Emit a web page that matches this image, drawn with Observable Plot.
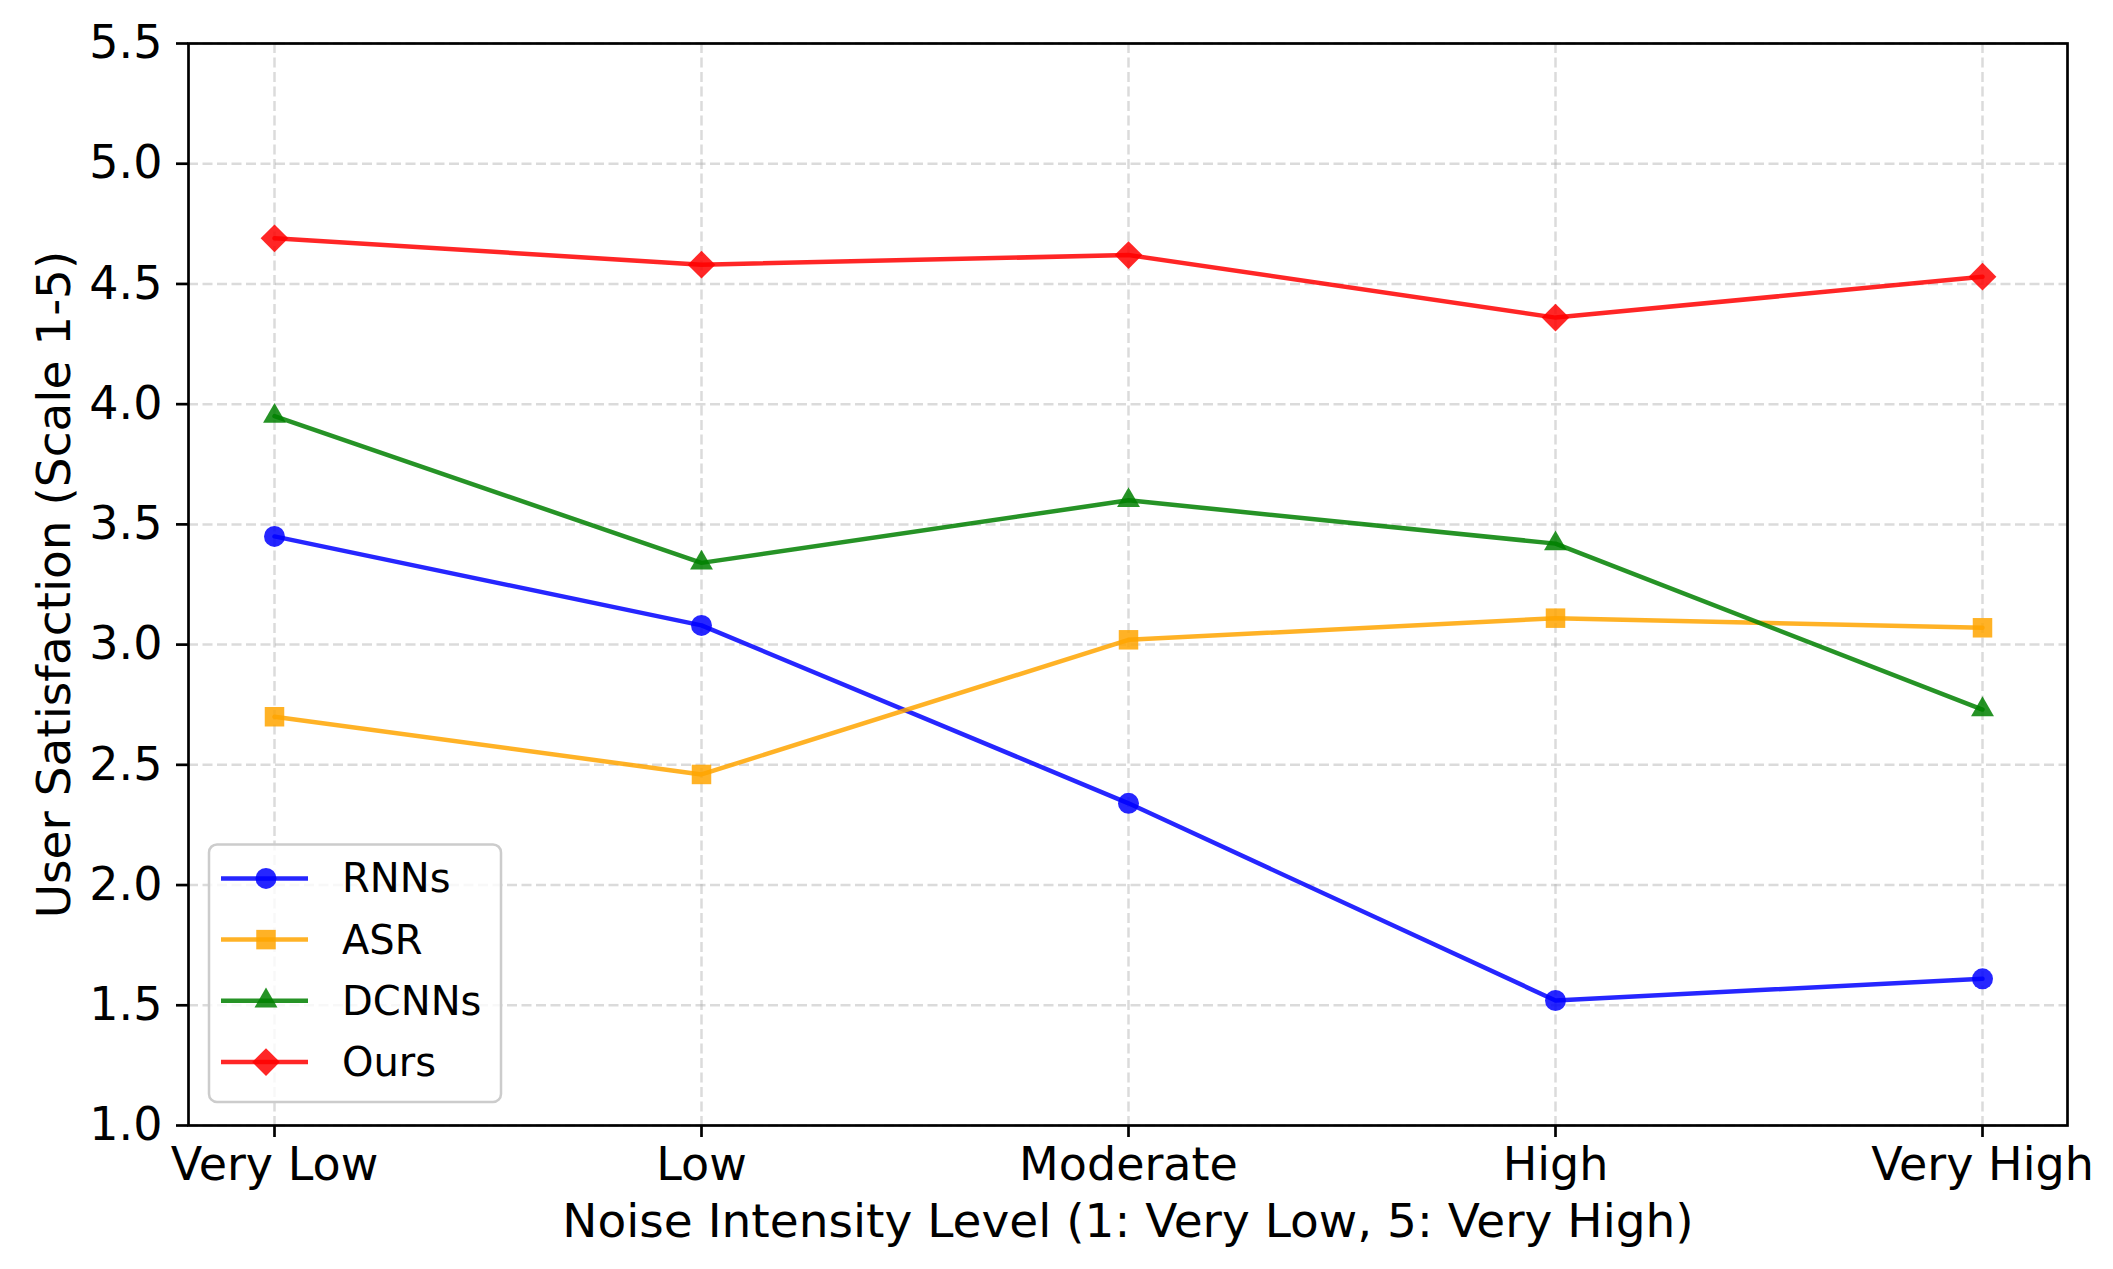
<!DOCTYPE html>
<html><head><meta charset="utf-8">
<script src="https://cdn.jsdelivr.net/npm/d3@7"></script>
<script src="https://cdn.jsdelivr.net/npm/@observablehq/plot@0.6"></script>
<style>
html,body{margin:0;padding:0;background:#fff;}
#chart svg{display:block;}
</style></head><body><div id="chart"></div>
<script>
// ---- data ----
const categories = ["Very Low", "Low", "Moderate", "High", "Very High"];
const rnns  = [3.45, 3.08, 2.34, 1.52, 1.61];
const asr   = [2.70, 2.46, 3.02, 3.11, 3.07];
const dcnns = [3.95, 3.34, 3.60, 3.42, 2.73];
const ours  = [4.69, 4.58, 4.62, 4.36, 4.53];
const seriesNames = ["RNNs", "ASR", "DCNNs", "Ours"];
const seriesValues = [rnns, asr, dcnns, ours];
const seriesColors = ["#0000ff", "#ffa500", "#008000", "#ff0000"];
const seriesSymbols = ["circle", "square", "triangle", "diamond2"];
const seriesRadius = [10.5, 11, 8.5, 12.5];
const yTicks = [1.0, 1.5, 2.0, 2.5, 3.0, 3.5, 4.0, 4.5, 5.0, 5.5];
const xLabel = "Noise Intensity Level (1: Very Low, 5: Very High)";
const yLabel = "User Satisfaction (Scale 1-5)";

const rows = seriesNames.flatMap((name, i) =>
  categories.map((c, j) => ({series: name, level: c, value: seriesValues[i][j]})));

const ALPHA = 0.85;
const symbolMap = {circle: d3.symbolCircle, square: d3.symbolSquare, triangle: d3.symbolTriangle, diamond2: d3.symbolDiamond2};

function legendMark(index, scales, values, dims) {
  const g = d3.create("svg:g");
  const left = dims.marginLeft + 21;
  const bottom = dims.height - dims.marginBottom - 23;
  const pitch = 61.2;
  const n = seriesNames.length;
  const firstRow = bottom - 40 - pitch * (n - 1);
  const top = firstRow - 34;
  const boxW = 292;
  g.append("rect").attr("x", left).attr("y", top).attr("width", boxW).attr("height", bottom - top)
    .attr("rx", 8).attr("fill", "#fff").attr("fill-opacity", 0.8)
    .attr("stroke", "#cccccc").attr("stroke-width", 2.5);
  seriesNames.forEach((name, i) => {
    const y = firstRow + i * pitch;
    const c = seriesColors[i];
    g.append("line").attr("x1", left + 12).attr("x2", left + 99).attr("y1", y).attr("y2", y)
      .attr("stroke", c).attr("stroke-opacity", ALPHA).attr("stroke-width", 4.5);
    const r = seriesRadius[i];
    g.append("path").attr("transform", `translate(${left + 57},${y})`)
      .attr("d", d3.symbol(symbolMap[seriesSymbols[i]], Math.PI * r * r)())
      .attr("fill", c).attr("fill-opacity", ALPHA);
    g.append("text").attr("x", left + 133).attr("y", y).attr("dy", "0.35em")
      .attr("text-anchor", "start").attr("font-size", 40).attr("fill", "#000").text(name);
  });
  return g.node();
}

const marks = [
  Plot.gridY(yTicks, {stroke: "#b0b0b0", strokeOpacity: 0.45, strokeWidth: 2.5, strokeDasharray: "10,4.5"}),
  Plot.gridX(categories, {stroke: "#b0b0b0", strokeOpacity: 0.45, strokeWidth: 2.5, strokeDasharray: "10,4.5"}),
  Plot.axisY(yTicks, {tickSize: 12, tickPadding: 14, tickFormat: d => d.toFixed(1), fontSize: 46, strokeWidth: 2.7, label: null}),
  Plot.axisX(categories, {tickSize: 12, tickPadding: 10, fontSize: 46, strokeWidth: 2.7, label: null}),
];
seriesNames.forEach((name, i) => {
  const d = rows.filter(r => r.series === name);
  marks.push(Plot.lineY(d, {x: "level", y: "value", stroke: seriesColors[i], strokeOpacity: ALPHA, strokeWidth: 4.5}));
  marks.push(Plot.dot(d, {x: "level", y: "value", symbol: seriesSymbols[i], r: seriesRadius[i], fill: seriesColors[i], fillOpacity: ALPHA, stroke: "none"}));
});
marks.push(Plot.frame({stroke: "#000", strokeWidth: 2.7}));
marks.push(Plot.text([yLabel], {text: d => d, frameAnchor: "left", dx: -134, rotate: -90, textAnchor: "middle", lineAnchor: "middle", fontSize: 47, fill: "#000"}));
marks.push(Plot.text([xLabel], {text: d => d, frameAnchor: "bottom", dy: 96, textAnchor: "middle", lineAnchor: "middle", fontSize: 47, fill: "#000"}));
marks.push(legendMark);

const chart = Plot.plot({
  width: 2113,
  height: 1269,
  marginLeft: 188,
  marginRight: 46,
  marginTop: 43,
  marginBottom: 144,
  style: {fontFamily: "DejaVu Sans", fontSize: "46px", color: "#000", background: "#fff"},
  x: {type: "point", domain: categories, padding: 0.2, axis: null},
  y: {domain: [1, 5.5], axis: null},
  marks
});
document.getElementById("chart").appendChild(chart);
</script>
</body></html>
